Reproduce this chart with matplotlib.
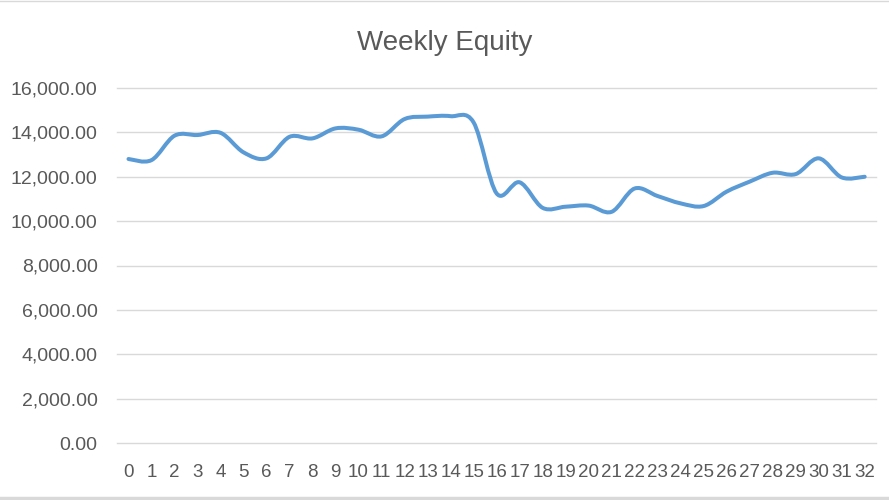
import numpy as np
import matplotlib.pyplot as plt
from matplotlib.path import Path
from matplotlib.patches import PathPatch
from matplotlib.lines import Line2D

plt.rcParams['font.family'] = ['Liberation Sans', 'DejaVu Sans']

# --- данные ---
weeks = list(range(33))
equity = [12800, 12750, 13850, 13880, 13980, 13100, 12830, 13800, 13730, 14180,
          14120, 13820, 14600, 14710, 14730, 14450, 11250, 11750, 10600, 10650,
          10700, 10420, 11470, 11130, 10800, 10680, 11330, 11780, 12180, 12120,
          12830, 11970, 12000]
yticks = [0, 2000, 4000, 6000, 8000, 10000, 12000, 14000, 16000]

TXT = '#595959'
GRID = '#D9D9D9'
LINE = '#5B9BD5'


def smooth_path(xs, ys, t=1.0 / 6):
    # сглаживание как в Excel: кубические безье по Катмулл-Рому
    xs = np.asarray(xs, float); ys = np.asarray(ys, float)
    n = len(xs)
    verts = [(xs[0], ys[0])]; codes = [Path.MOVETO]
    for i in range(n - 1):
        x0, y0 = (xs[i - 1], ys[i - 1]) if i > 0 else (xs[i], ys[i])
        x3, y3 = (xs[i + 2], ys[i + 2]) if i + 2 < n else (xs[i + 1], ys[i + 1])
        c1 = (xs[i] + (xs[i + 1] - x0) * t, ys[i] + (ys[i + 1] - y0) * t)
        c2 = (xs[i + 1] - (x3 - xs[i]) * t, ys[i + 1] - (y3 - ys[i]) * t)
        verts += [c1, c2, (xs[i + 1], ys[i + 1])]
        codes += [Path.CURVE4] * 3
    return Path(verts, codes)


fig = plt.figure(figsize=(8.89, 5), dpi=100)
ax = fig.add_axes([0.1316, 0.114, 0.854, 0.71])

ax.add_patch(PathPatch(smooth_path(weeks, equity), facecolor='none', edgecolor=LINE,
                       linewidth=2.9, capstyle='round', joinstyle='round', zorder=3))

ax.set_xlim(-0.5, 32.5)
ax.set_ylim(0, 16000)
ax.set_yticks(yticks)
ax.set_yticklabels([f'{v:,.2f}' for v in yticks])
ax.set_xticks(weeks)
ax.set_xticklabels([str(w) for w in weeks])
ax.tick_params(length=0, colors=TXT)
ax.tick_params(axis='y', pad=14, labelsize=14)
ax.tick_params(axis='x', pad=15, labelsize=13.5)
ax.grid(axis='y', color=GRID, linewidth=1)
for gl in ax.get_ygridlines(): gl.set_clip_on(False)
ax.set_axisbelow(True)
for s in ax.spines.values(): s.set_visible(False)

fig.text(0.5, 0.914, 'Weekly Equity', ha='center', va='center', fontsize=20, color=TXT)

# рамка сверху (тонкая) и снизу (толще)
fig.add_artist(Line2D([0, 1], [0.999, 0.999], transform=fig.transFigure, color=GRID, linewidth=1))
fig.add_artist(Line2D([0, 1], [0.004, 0.004], transform=fig.transFigure, color=GRID, linewidth=2.5))

fig.savefig('out.png', dpi=100)
